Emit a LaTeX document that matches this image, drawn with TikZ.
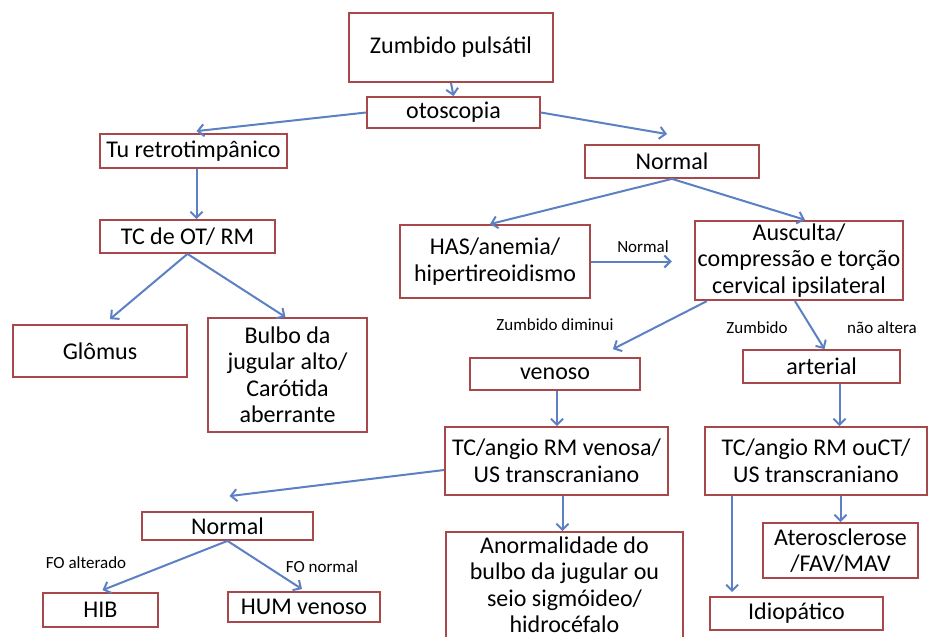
\documentclass[tikz,border=0pt]{standalone}
\usepackage{fontspec}
\setmainfont{Carlito}
\usepackage{tikz}
\usetikzlibrary{arrows.meta,positioning,calc}
\definecolor{boxred}{RGB}{168,72,74}
\definecolor{arrowblue}{RGB}{92,128,196}
\tikzset{
    box/.style={draw=boxred,line width=1.8pt,align=center,inner sep=3pt,
        font=\fontsize{24}{26.5}\selectfont},
    arrow/.style={-{Straight Barb[length=6pt,width=12pt]},arrowblue,line width=2pt},
    note/.style={font=\fontsize{17}{19}\selectfont,inner sep=0pt}
}
\begin{document}
\begin{tikzpicture}[x=1pt,y=-1pt]
    \useasboundingbox[fill=white] (0,0) rectangle (930,637);
    % top
    \node[box,minimum width=204pt,minimum height=69pt] (zumbido) at (451,47.5) {Zumbido pulsátil};
    \node[box,minimum width=173pt,minimum height=31pt] (otoscopia) at (453.5,112.5) {otoscopia};
    % left branch
    \node[box,minimum width=187pt,minimum height=34pt] (retro) at (193.5,151) {Tu retrotimpânico};
    \node[box,minimum width=175pt,minimum height=33pt] (tcot) at (187.5,236.5) {TC de OT/ RM};
    \node[box,minimum width=174pt,minimum height=52pt] (glomus) at (100,351) {Glômus};
    \node[box,minimum width=159pt,minimum height=114pt] (bulbo) at (287.5,375) {Bulbo da\\jugular alto/\\Carótida\\aberrante};
    % right branch
    \node[box,minimum width=174pt,minimum height=33pt] (normal) at (672,161.5) {Normal};
    \node[box,minimum width=190pt,minimum height=73pt] (has) at (495,261.5) {HAS/anemia/\\hipertireoidismo};
    \node[box,minimum width=208pt,minimum height=75pt] (ausculta) at (799,260.5) {Ausculta/\\compressão e torção\\cervical ipsilateral};
    \node[box,minimum width=170pt,minimum height=32pt] (venoso) at (555,374) {venoso};
    \node[box,minimum width=157pt,minimum height=33pt] (arterial) at (821.5,366.5) {arterial};
    \node[box,minimum width=223pt,minimum height=68pt] (tcven) at (556.5,461) {TC/angio RM venosa/\\US transcraniano};
    \node[box,minimum width=222pt,minimum height=68pt] (tcart) at (816,461) {TC/angio RM ouCT/\\US transcraniano};
    \node[box,minimum width=237pt,minimum height=106pt] (anorm) at (564.5,585) {Anormalidade do\\bulbo da jugular ou\\seio sigmóideo/\\hidrocéfalo};
    \node[box,minimum width=155pt,minimum height=55pt] (ateros) at (840.5,550.5) {Aterosclerose\\/FAV/MAV};
    \node[box,minimum width=173pt,minimum height=33pt] (idio) at (796.5,613.5) {Idiopático};
    \node[box,minimum width=171pt,minimum height=28pt] (normalven) at (227.5,526) {Normal};
    \node[box,minimum width=115pt,minimum height=34pt] (hib) at (100.5,610) {HIB};
    \node[box,minimum width=152pt,minimum height=30pt] (hum) at (304,607) {HUM venoso};
    % labels
    \node[note] (lnormal) at (643,247) {Normal};
    \node[note] (ldiminui) at (555,325) {Zumbido diminui};
    \node[note] (lzumbido) at (757,328) {Zumbido};
    \node[note] (lnaoaltera) at (882,328) {não altera};
    \node[note] (lfoalt) at (86,563) {FO alterado};
    \node[note] (lfonorm) at (322,567) {FO normal};
    % arrows
    \draw[arrow] (zumbido.south) -- (otoscopia.north);
    \draw[arrow] (otoscopia.west) -- ([xshift=3pt,yshift=2pt]retro.north);
    \draw[arrow] (otoscopia.east) -- ([xshift=-5pt,yshift=10pt]normal.north);
    \draw[arrow] ([xshift=3pt]retro.south) -- ([xshift=3pt]retro.south |- tcot.north);
    \draw[arrow] (tcot.south) -- ([xshift=10pt,yshift=5pt]glomus.north);
    \draw[arrow] (tcot.south) -- ([xshift=-2pt]bulbo.north);
    \draw[arrow] (normal.south) -- ([xshift=-5pt]has.north);
    \draw[arrow] (normal.south) -- ([xshift=6pt]ausculta.north);
    \draw[arrow,shorten >=22pt] (has.east) -- (has.east -| ausculta.west);
    \draw[arrow] ([xshift=13pt]ausculta.south west) -- ([xshift=-28pt,yshift=8pt]venoso.north east);
    \draw[arrow] ([xshift=-4pt]ausculta.south) -- ([xshift=3pt]arterial.north);
    \draw[arrow] ([xshift=2pt]venoso.south) -- ([xshift=2pt]venoso.south |- tcven.north);
    \draw[arrow] ([xshift=18pt]arterial.south) -- ([xshift=18pt]arterial.south |- tcart.north);
    \draw[arrow] ([xshift=6pt]tcven.south) -- ([xshift=6pt]tcven.south |- anorm.north);
    \draw[arrow] (ateros.north |- tcart.south) -- (ateros.north);
    \draw[arrow,shorten >=4pt] ([xshift=28pt]tcart.south west) -- ([xshift=28pt]tcart.south west |- idio.north);
    \draw[arrow] ([yshift=-9pt]tcven.west) -- ([xshift=2pt,yshift=15pt]normalven.north);
    \draw[arrow] (normalven.south) -- ([xshift=2pt,yshift=2pt]hib.north);
    \draw[arrow] (normalven.south) -- ([xshift=-2pt,yshift=2pt]hum.north);
\end{tikzpicture}
\end{document}
